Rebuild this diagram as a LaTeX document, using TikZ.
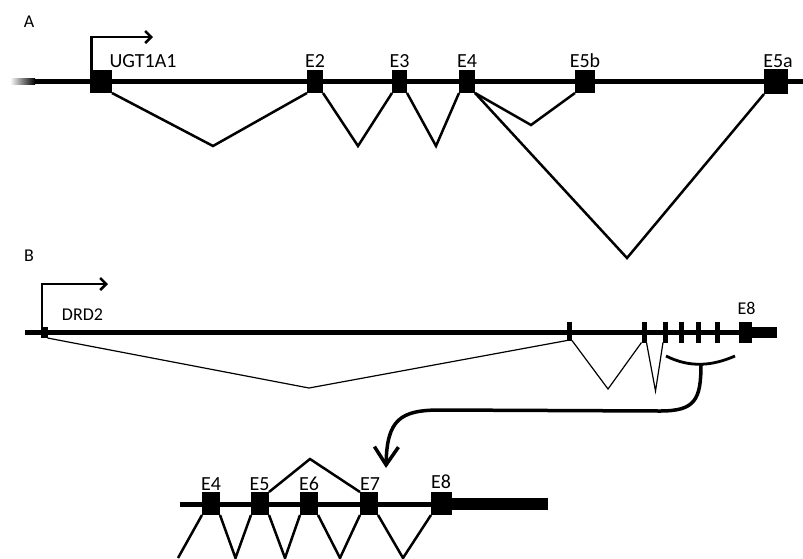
\documentclass[tikz,border=0pt]{standalone}
\usepackage{fontspec}
\setmainfont{Carlito}
\usetikzlibrary{arrows.meta}
\begin{document}
\begin{tikzpicture}[x=1pt,y=-1pt,
  exon/.style={fill=black,draw=none,inner sep=0pt,outer sep=0pt},
  lbl/.style={inner sep=0pt,anchor=base,font=\fontsize{20}{24}\selectfont},
  plbl/.style={inner sep=0pt,anchor=base,font=\fontsize{18}{22}\selectfont},
  splice/.style={line width=2.5pt,line join=miter},
  thinsplice/.style={line width=1.2pt},
  backbone/.style={line width=5.5pt},
  tss/.style={line width=2.5pt,-{Straight Barb[length=6pt,width=12pt,line width=2.5pt]}}]
\useasboundingbox (0,0) rectangle (803,558);
% ---------------- Panel A ----------------
\node[plbl] (labA) at (29,27) {A};
\coordinate (fadeS) at (10,81.5);
\coordinate (fadeE) at (35,81.5);
\coordinate (aEnd) at (803,81.5);
\shade[left color=white,right color=black] (10,78.75) rectangle (35,84.25);
\draw[backbone] (fadeE) -- (aEnd);
\node[exon,minimum width=22pt,minimum height=23pt] (aU) at (101,81.5) {};
\node[exon,minimum width=16pt,minimum height=23pt] (aE2) at (315,81.5) {};
\node[exon,minimum width=15pt,minimum height=23pt] (aE3) at (399.5,81.5) {};
\node[exon,minimum width=16pt,minimum height=23pt] (aE4) at (467,81.5) {};
\node[exon,minimum width=20pt,minimum height=23pt] (aE5b) at (585,81.5) {};
\node[exon,minimum width=24pt,minimum height=25pt] (aE5a) at (776,81.5) {};
\node[lbl] (lU) at (143,67) {UGT1A1};
\node[lbl] (lE2) at (315,67) {E2};
\node[lbl] (lE3) at (399.5,67) {E3};
\node[lbl] (lE4) at (467,67) {E4};
\node[lbl] (lE5b) at (585,67) {E5b};
\node[lbl] (lE5a) at (778,67) {E5a};
\coordinate (tssA) at (153,37);
\draw[tss] ([xshift=1.25pt]aU.north west) |- (tssA);
\coordinate (sA1) at (213,146);
\coordinate (sA2) at (358,146);
\coordinate (sA3) at (436,146);
\coordinate (sA4) at (531,125);
\coordinate (sA5) at (627,258);
\draw[splice] (aU.south east) -- (sA1) -- (aE2.south west);
\draw[splice] (aE2.south east) -- (sA2) -- (aE3.south west);
\draw[splice] (aE3.south east) -- (sA3) -- (aE4.south west);
\draw[splice] (aE4.south east) -- (sA4) -- (aE5b.south west);
\draw[splice] (aE4.south east) -- (sA5) -- (aE5a.south west);
% ---------------- Panel B ----------------
\node[plbl] (labB) at (29,261) {B};
\coordinate (bS) at (25,332.5);
\coordinate (bE) at (745,332.5);
\draw[line width=5pt] (bS) -- (bE);
\node[exon,minimum width=7pt,minimum height=11pt] (b1) at (44,332.5) {};
\node[exon,minimum width=5pt,minimum height=19pt] (b2) at (569.5,331) {};
\node[exon,minimum width=5pt,minimum height=21pt] (b3) at (644,332) {};
\node[exon,minimum width=5pt,minimum height=21pt] (b4) at (665.5,332) {};
\node[exon,minimum width=5pt,minimum height=21pt] (b5) at (681.5,332) {};
\node[exon,minimum width=5pt,minimum height=21pt] (b6) at (698,332) {};
\node[exon,minimum width=5pt,minimum height=21pt] (b7) at (717.5,332) {};
\node[exon,minimum width=13pt,minimum height=21pt] (b8) at (745.5,332.5) {};
\node[exon,minimum width=26pt,minimum height=11pt] (b8t) at (764,332.5) {};
\node[plbl] (lDRD) at (82.5,320) {DRD2};
\node[plbl] (lbE8) at (746.5,314) {E8};
\coordinate (tssB) at (108,284);
\draw[tss] ([xshift=-2pt]b1.north) |- (tssB);
\coordinate (sB1) at (309,388);
\coordinate (sB2) at (608,389);
\coordinate (sB3) at (655.5,391);
\draw[thinsplice] (b1.south east) -- (sB1) -- (b2.south west);
\draw[thinsplice] (b2.south east) -- (sB2) -- (b3.south west);
\draw[thinsplice] (b3.south east) -- (sB3) -- (b4.south west);
% bracket and curved arrow
\coordinate (brL) at (666,356);
\coordinate (brR) at (735,356);
\coordinate (brM) at (701,364);
\coordinate (arrTip) at (386,468);
\draw[line width=2.8pt] (brL) .. controls (690,368) and (712,366) .. (brR);
\draw[line width=3.5pt,-{Straight Barb[length=18pt,width=24pt,line width=3.5pt]}]
  (brM) .. controls (701,400) and (695,411) .. (660,411)
  -- (440,410) .. controls (400,410) and (387,420) .. (arrTip);
% ---------------- Inset ----------------
\coordinate (iS) at (180,504);
\coordinate (iE) at (452,504);
\draw[line width=5pt] (iS) -- (iE);
\node[exon,minimum width=98pt,minimum height=12pt] (iT) at (499,504) {};
\node[exon,minimum width=18pt,minimum height=23pt] (iE4) at (211,503.5) {};
\node[exon,minimum width=18pt,minimum height=23pt] (iE5) at (260,503.5) {};
\node[exon,minimum width=18pt,minimum height=23pt] (iE6) at (309,503.5) {};
\node[exon,minimum width=18pt,minimum height=23pt] (iE7) at (369,503.5) {};
\node[exon,minimum width=21pt,minimum height=23pt] (iE8) at (441.5,503.5) {};
\node[lbl] (liE4) at (211,490) {E4};
\node[lbl] (liE5) at (259.5,490) {E5};
\node[lbl] (liE6) at (309,490) {E6};
\node[lbl] (liE7) at (370,490) {E7};
\node[lbl] (liE8) at (441,488) {E8};
\coordinate (sI0) at (310,459);
\draw[splice] (iE5.north east) -- (sI0) -- (iE7.north west);
\coordinate (sI1) at (178,558);
\coordinate (sI2) at (235.5,558);
\coordinate (sI3) at (285,558);
\coordinate (sI4) at (340,558);
\coordinate (sI5) at (403,558);
\draw[splice] (iE4.south west) -- (sI1);
\draw[splice] (iE4.south east) -- (sI2) -- (iE5.south west);
\draw[splice] (iE5.south east) -- (sI3) -- (iE6.south west);
\draw[splice] (iE6.south east) -- (sI4) -- (iE7.south west);
\draw[splice] (iE7.south east) -- (sI5) -- (iE8.south west);
\end{tikzpicture}
\end{document}
